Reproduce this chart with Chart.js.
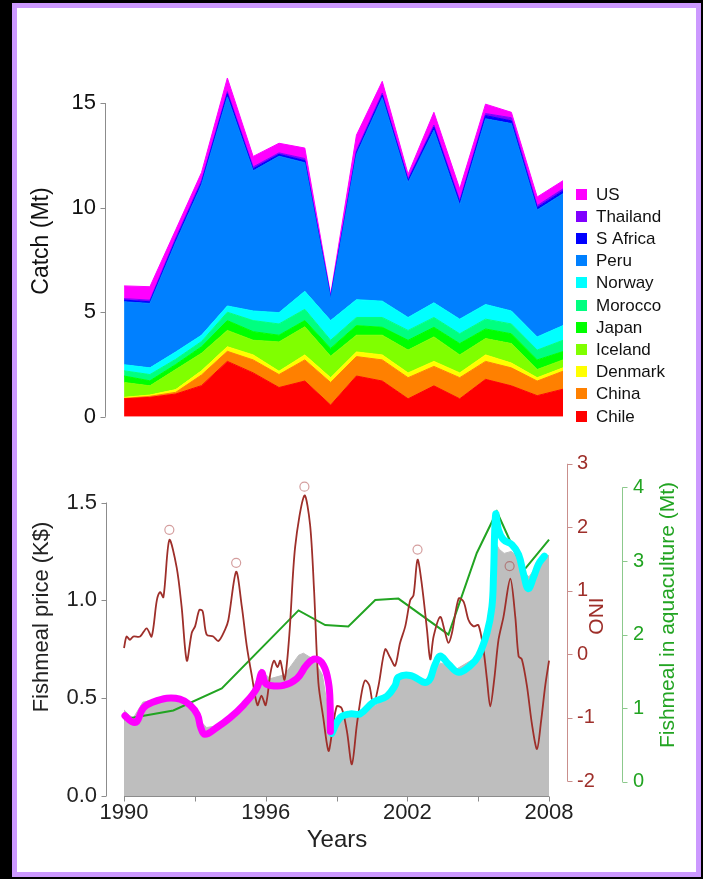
<!DOCTYPE html>
<html>
<head>
<meta charset="utf-8">
<script src="https://cdn.jsdelivr.net/npm/chart.js@4.4.1/dist/chart.umd.min.js"></script>
<style>
  html, body { margin: 0; padding: 0; background: #000; }
  body { width: 703px; height: 879px; position: relative; overflow: hidden; }
  #frame { position: absolute; left: 12px; top: 3px; width: 679px; height: 864px; border: 5px solid #cc99ff; background: #fff; }
  .box { position: absolute; left: 0; width: 679px; height: 432px; }
  #topBox { top: 0; }
  #botBox { top: 432px; }
</style>
</head>
<body>
<div id="frame">
  <div class="box" id="topBox"><canvas id="catchChart"></canvas></div>
  <div class="box" id="botBox"><canvas id="priceChart"></canvas></div>
</div>
<script>
// ---- catch by country (Mt), 1990-2007 ----
var years = [1990, 1991, 1992, 1993, 1994, 1995, 1996, 1997, 1998, 1999, 2000, 2001, 2002, 2003, 2004, 2005, 2006, 2007];
var countries = ["Chile", "China", "Denmark", "Iceland", "Japan", "Morocco", "Norway", "Peru", "S Africa", "Thailand", "US"];
var countryColors = ["#ff0000", "#ff8000", "#ffff00", "#80ff00", "#00ff00", "#00ff80", "#00ffff", "#0080ff", "#0000ff", "#8000ff", "#ff00ff"];
var chile    = [0.86, 0.93, 1.09, 1.49, 2.65, 2.10, 1.40, 1.71, 0.56, 1.95, 1.71, 0.86, 1.48, 0.86, 1.79, 1.48, 1.01, 1.32];
var china    = [0.02, 0.05, 0.08, 0.51, 0.48, 0.62, 0.62, 1.01, 1.08, 0.93, 1.01, 1.01, 0.93, 1.01, 0.86, 0.86, 0.70, 0.86];
var denmark  = [0.05, 0.06, 0.13, 0.20, 0.22, 0.24, 0.16, 0.24, 0.23, 0.22, 0.24, 0.23, 0.24, 0.23, 0.31, 0.23, 0.16, 0.16];
var iceland  = [0.71, 0.44, 0.96, 0.84, 0.78, 0.70, 1.40, 1.34, 1.03, 0.80, 0.94, 1.09, 1.17, 0.86, 0.78, 0.93, 0.39, 0.38];
var japan    = [0.31, 0.24, 0.24, 0.31, 0.47, 0.41, 0.32, 0.30, 0.37, 0.46, 0.38, 0.47, 0.46, 0.54, 0.46, 0.47, 0.46, 0.40];
var morocco  = [0.25, 0.30, 0.25, 0.25, 0.40, 0.53, 0.54, 0.54, 0.39, 0.39, 0.47, 0.47, 0.47, 0.47, 0.47, 0.47, 0.47, 0.54];
var norway   = [0.29, 0.32, 0.35, 0.30, 0.30, 0.46, 0.54, 0.86, 0.94, 0.85, 0.78, 0.62, 0.70, 0.70, 0.70, 0.62, 0.63, 0.70];
var peru     = [3.01, 3.08, 5.25, 7.20, 10.00, 6.70, 7.48, 6.15, 1.05, 6.94, 9.73, 6.45, 8.25, 5.45, 8.88, 8.96, 6.07, 6.31];
var sAfrica  = [0.08, 0.08, 0.10, 0.10, 0.15, 0.10, 0.09, 0.10, 0.05, 0.10, 0.12, 0.10, 0.15, 0.13, 0.15, 0.13, 0.11, 0.13];
var thailand = [0.07, 0.08, 0.10, 0.10, 0.10, 0.09, 0.07, 0.10, 0.06, 0.10, 0.10, 0.08, 0.10, 0.10, 0.10, 0.15, 0.10, 0.10];
var us       = [0.61, 0.64, 0.39, 0.38, 0.65, 0.50, 0.46, 0.50, 0.08, 0.73, 0.56, 0.22, 0.61, 0.55, 0.45, 0.26, 0.41, 0.39];
var catchTicks = [0, 5, 10, 15];

// ---- fishmeal price (K$), monthly-ish readings ----
var priceTime  = [1990.00, 1990.25, 1990.40, 1990.80, 1991.30, 1991.80, 1992.40, 1992.90, 1993.10, 1993.50, 1994.00, 1994.60, 1995.30, 1995.80, 1996.00, 1996.20, 1996.80, 1997.40, 1997.60, 1998.00, 1998.40, 1998.60, 1998.80, 1999.00, 1999.60, 2000.00, 2000.60, 2001.00, 2001.50, 2002.00, 2002.80, 2003.40, 2004.10, 2004.80, 2005.20, 2005.50, 2005.70, 2005.90, 2006.10, 2006.40, 2006.70, 2006.90, 2007.15, 2007.50, 2007.80, 2008.00];
var priceValue = [0.44, 0.41, 0.40, 0.48, 0.49, 0.50, 0.50, 0.45, 0.40, 0.35, 0.36, 0.42, 0.50, 0.65, 0.62, 0.60, 0.62, 0.72, 0.73, 0.70, 0.62, 0.47, 0.37, 0.38, 0.43, 0.42, 0.46, 0.49, 0.58, 0.63, 0.575, 0.68, 0.65, 0.70, 0.77, 0.93, 1.30, 1.26, 1.24, 1.25, 1.22, 1.15, 1.12, 1.18, 1.22, 1.23];

// smoothed price trend, two periods
var magTime  = [1990.04, 1990.33, 1990.54, 1990.82, 1991.24, 1991.81, 1992.37, 1992.80, 1993.11, 1993.25, 1993.43, 1993.93, 1994.49, 1995.06, 1995.62, 1995.83, 1995.97, 1996.19, 1996.75, 1997.32, 1997.74, 1998.09, 1998.44, 1998.66, 1998.73, 1998.74];
var magValue = [0.41, 0.38, 0.38, 0.45, 0.48, 0.50, 0.495, 0.465, 0.415, 0.35, 0.315, 0.35, 0.40, 0.465, 0.55, 0.63, 0.58, 0.565, 0.565, 0.60, 0.67, 0.70, 0.67, 0.58, 0.465, 0.33];
var cyanTime  = [1998.80, 1999.15, 1999.58, 2000.00, 2000.56, 2001.13, 2001.48, 2001.62, 2002.12, 2002.83, 2003.18, 2003.39, 2003.74, 2004.17, 2004.66, 2005.01, 2005.37, 2005.58, 2005.65, 2005.74, 2005.86, 2006.07, 2006.43, 2006.71, 2006.92, 2007.12, 2007.34, 2007.55, 2007.80];
var cyanValue = [0.32, 0.40, 0.42, 0.42, 0.48, 0.51, 0.565, 0.607, 0.616, 0.582, 0.674, 0.716, 0.674, 0.632, 0.666, 0.716, 0.833, 0.967, 1.134, 1.44, 1.36, 1.31, 1.284, 1.234, 1.134, 1.06, 1.117, 1.184, 1.226];

// ONI index
var oniTime  = [1990.00, 1990.11, 1990.25, 1990.39, 1990.68, 1990.96, 1991.17, 1991.39, 1991.53, 1991.67, 1991.92, 1992.23, 1992.44, 1992.66, 1992.87, 1993.01, 1993.19, 1993.33, 1993.50, 1993.78, 1994.00, 1994.28, 1994.42, 1994.75, 1994.99, 1995.20, 1995.41, 1995.65, 1995.82, 1996.00, 1996.20, 1996.35, 1996.50, 1996.62, 1996.80, 1997.00, 1997.25, 1997.64, 1997.88, 1998.05, 1998.23, 1998.44, 1998.66, 1998.80, 1999.01, 1999.22, 1999.44, 1999.65, 1999.86, 2000.07, 2000.21, 2000.39, 2000.56, 2000.78, 2001.06, 2001.27, 2001.48, 2001.69, 2001.91, 2002.12, 2002.26, 2002.43, 2002.61, 2002.83, 2002.97, 2003.11, 2003.39, 2003.60, 2003.74, 2003.89, 2004.17, 2004.38, 2004.59, 2004.80, 2005.01, 2005.22, 2005.37, 2005.51, 2005.68, 2005.86, 2006.07, 2006.36, 2006.57, 2006.71, 2006.85, 2007.06, 2007.28, 2007.49, 2007.66, 2007.84, 2008.00];
var oniValue = [0.10, 0.28, 0.23, 0.28, 0.28, 0.41, 0.28, 0.85, 0.98, 0.90, 1.80, 1.37, 0.75, -0.10, 0.34, 0.44, 0.70, 0.68, 0.31, 0.28, 0.21, 0.39, 0.54, 1.30, 0.75, 0.13, -0.33, -0.80, -0.65, -0.80, -0.30, -0.10, -0.20, -0.10, -0.40, 0.30, 1.70, 2.50, 2.04, 1.00, -0.44, -1.00, -1.52, -1.26, -0.82, -0.85, -1.21, -1.73, -1.11, -0.59, -0.41, -0.49, -0.80, -0.49, 0.08, -0.05, -0.18, 0.18, 0.44, 0.85, 0.93, 1.49, 1.11, 0.39, -0.08, 0.28, 0.59, 0.34, 0.18, 0.34, 0.88, 0.83, 0.54, 0.44, 0.46, 0.08, -0.39, -0.82, -0.39, 0.23, 0.59, 1.19, 0.59, -0.03, -0.08, -0.49, -1.11, -1.49, -1.06, -0.49, -0.10];
var ninoTime  = [1991.92, 1994.75, 1997.64, 2002.43, 2006.33];
var ninoValue = [1.96, 1.44, 2.64, 1.65, 1.39];

// fishmeal used in aquaculture (Mt)
var aquaTime  = [1990.00, 1992.09, 1994.14, 1997.39, 1998.52, 1999.50, 2000.64, 2001.62, 2003.74, 2004.94, 2005.79, 2006.92, 2008.00];
var aquaValue = [0.85, 0.97, 1.27, 2.33, 2.13, 2.11, 2.47, 2.49, 2.00, 3.11, 3.67, 2.87, 3.29];

var yearTicks  = [1990, 1993, 1996, 1999, 2002, 2005, 2008];
var yearLabels = [1990, 1996, 2002, 2008];
var priceTicks = [0, 0.5, 1.0, 1.5];
var oniTicks   = [-2, -1, 0, 1, 2, 3];
var aquaTicks  = [0, 1, 2, 3, 4];

var FONT = "'Liberation Sans', Arial, sans-serif";
Chart.defaults.font.family = FONT;
Chart.defaults.color = "#222";

function pairs(xs, ys) {
	return xs.map(function (x, i) {
		return { x: x, y: ys[i] };
	});
}

function fixedTicks(list) {
	return function (scale) {
		scale.ticks = list.map(function (v) {
			return { value: v };
		});
	};
}

// R-like axes: line only from first to last tick, ticks pointing outwards
var rAxes = {
	id: "rAxes",
	afterDraw: function (chart, args, opts) {
		var ctx = chart.ctx;
		ctx.save();
		ctx.lineWidth = 1;
		opts.axes.forEach(function (a) {
			var s = chart.scales[a.id];
			var vals = s.ticks.map(function (t) { return t.value; });
			var p0 = s.getPixelForValue(Math.min.apply(null, vals));
			var p1 = s.getPixelForValue(Math.max.apply(null, vals));
			ctx.strokeStyle = a.color;
			ctx.beginPath();
			if (a.side === "bottom") {
				var y = Math.round(s.top) + 0.5;
				ctx.moveTo(p0, y);
				ctx.lineTo(p1, y);
				vals.forEach(function (v) {
					var x = Math.round(s.getPixelForValue(v)) + 0.5;
					ctx.moveTo(x, y);
					ctx.lineTo(x, y + a.len);
				});
			} else {
				var x0 = a.side === "left" ? Math.round(s.right) - 0.5 : Math.round(s.left) + 0.5;
				var dir = a.side === "left" ? -1 : 1;
				ctx.moveTo(x0, p0);
				ctx.lineTo(x0, p1);
				vals.forEach(function (v) {
					var yy = Math.round(s.getPixelForValue(v)) + 0.5;
					ctx.moveTo(x0, yy);
					ctx.lineTo(x0 + dir * a.len, yy);
				});
			}
			ctx.stroke();
		});
		ctx.restore();
	}
};

var axisTitles = {
	id: "axisTitles",
	afterDraw: function (chart, args, opts) {
		var ctx = chart.ctx;
		opts.items.forEach(function (t) {
			ctx.save();
			ctx.translate(t.x, t.y);
			if (t.rot) ctx.rotate(-Math.PI / 2);
			ctx.font = t.size + "px " + FONT;
			ctx.fillStyle = t.color;
			ctx.textAlign = "center";
			ctx.textBaseline = "middle";
			ctx.fillText(t.text, 0, 0);
			ctx.restore();
		});
	}
};

var catchLegend = {
	id: "catchLegend",
	afterDraw: function (chart, args, opts) {
		var ctx = chart.ctx;
		var sets = chart.data.datasets;
		ctx.save();
		ctx.font = opts.size + "px " + FONT;
		ctx.textBaseline = "middle";
		ctx.textAlign = "left";
		for (var i = sets.length - 1, k = 0; i >= 0; i--, k++) {
			var y = opts.top + k * opts.step;
			ctx.fillStyle = sets[i].backgroundColor;
			ctx.fillRect(opts.left, Math.round(y - opts.box / 2), opts.box, opts.box);
			ctx.fillStyle = "#111";
			ctx.fillText(sets[i].label, opts.left + opts.box + 9, y + 1);
		}
		ctx.restore();
	}
};

// ---------- top: stacked catch ----------
var catchSeries = [chile, china, denmark, iceland, japan, morocco, norway, peru, sAfrica, thailand, us];
var catchDatasets = catchSeries.map(function (arr, i) {
	return {
		label: countries[i],
		data: pairs(years, arr),
		backgroundColor: countryColors[i],
		borderColor: countryColors[i],
		borderWidth: 1,
		pointRadius: 0,
		tension: 0,
		fill: i === 0 ? "origin" : "-1"
	};
});

new Chart(document.getElementById("catchChart"), {
	type: "line",
	data: { datasets: catchDatasets },
	options: {
		responsive: true,
		maintainAspectRatio: false,
		animation: false,
		events: [],
		layout: { padding: { left: 0, right: 133, top: 52, bottom: 15 } },
		scales: {
			x: { type: "linear", min: 1989.3, max: 2007, display: false },
			y: {
				stacked: true,
				min: 0,
				max: 17.06,
				grid: { display: false, drawTicks: false },
				border: { display: false },
				afterBuildTicks: fixedTicks(catchTicks),
				afterFit: function (s) { s.width = 89; },
				ticks: { padding: 10, color: "#111", font: { size: 22 } }
			}
		},
		plugins: {
			legend: { display: false },
			tooltip: { enabled: false },
			rAxes: { axes: [{ id: "y", side: "left", color: "#8c8c8c", len: 5 }] },
			axisTitles: { items: [{ text: "Catch (Mt)", x: 25, y: 233, rot: true, size: 23, color: "#111" }] },
			catchLegend: { left: 559, top: 186, step: 22.2, box: 11, size: 17 }
		}
	},
	plugins: [rAxes, axisTitles, catchLegend]
});

// ---------- bottom: price, ONI, aquaculture ----------
var ONI_COLOR = "#9e2f2a";
var AQUA_COLOR = "#22a422";

new Chart(document.getElementById("priceChart"), {
	type: "line",
	data: {
		datasets: [
			{
				label: "Price trend 1990-1998",
				data: pairs(magTime, magValue),
				yAxisID: "price",
				borderColor: "#ff00ff",
				borderWidth: 7,
				borderCapStyle: "round",
				borderJoinStyle: "round",
				pointRadius: 0,
				tension: 0.4,
				fill: false,
				order: 0
			},
			{
				label: "Price trend 1998-2008",
				data: pairs(cyanTime, cyanValue),
				yAxisID: "price",
				borderColor: "#00ffff",
				borderWidth: 7,
				borderCapStyle: "round",
				borderJoinStyle: "round",
				pointRadius: 0,
				tension: 0.4,
				fill: false,
				order: 0
			},
			{
				label: "El Nino",
				data: pairs(ninoTime, ninoValue),
				yAxisID: "oni",
				showLine: false,
				pointRadius: 4.5,
				pointBorderWidth: 1.2,
				pointBorderColor: "rgba(160,40,40,0.45)",
				pointBackgroundColor: "rgba(0,0,0,0)",
				order: 1
			},
			{
				label: "ONI",
				data: pairs(oniTime, oniValue),
				yAxisID: "oni",
				borderColor: ONI_COLOR,
				borderWidth: 1.8,
				pointRadius: 0,
				tension: 0.3,
				fill: false,
				order: 2
			},
			{
				label: "Fishmeal in aquaculture",
				data: pairs(aquaTime, aquaValue),
				yAxisID: "aqua",
				borderColor: AQUA_COLOR,
				borderWidth: 2,
				pointRadius: 0,
				tension: 0,
				fill: false,
				order: 3
			},
			{
				label: "Fishmeal price",
				data: pairs(priceTime, priceValue),
				yAxisID: "price",
				borderColor: "#bebebe",
				backgroundColor: "#bebebe",
				borderWidth: 1,
				pointRadius: 0,
				tension: 0,
				fill: "origin",
				order: 4
			}
		]
	},
	options: {
		responsive: true,
		maintainAspectRatio: false,
		animation: false,
		events: [],
		layout: { padding: { left: 0, right: 0, top: 17, bottom: 0 } },
		scales: {
			x: {
				type: "linear",
				position: "bottom",
				min: 1989.28,
				max: 2008.76,
				grid: { display: false, drawTicks: false },
				border: { display: false },
				afterBuildTicks: fixedTicks(yearTicks),
				afterFit: function (s) { s.height = 76; },
				ticks: {
					autoSkip: false,
					maxRotation: 0,
					minRotation: 0,
					padding: 4,
					color: "#222",
					font: { size: 22 },
					callback: function (v) {
						return yearLabels.indexOf(v) >= 0 ? String(v) : "";
					}
				}
			},
			price: {
				position: "left",
				min: 0,
				max: 1.701,
				grid: { display: false, drawTicks: false },
				border: { display: false },
				afterBuildTicks: fixedTicks(priceTicks),
				afterFit: function (s) { s.width = 90; },
				ticks: {
					padding: 10,
					color: "#222",
					font: { size: 22 },
					callback: function (v) { return v.toFixed(1); }
				}
			},
			oni: {
				position: "right",
				weight: 0,
				min: -2.23,
				max: 3.009,
				grid: { display: false, drawTicks: false },
				border: { display: false },
				afterBuildTicks: fixedTicks(oniTicks),
				afterFit: function (s) { s.width = 55; },
				ticks: { padding: 10, color: ONI_COLOR, font: { size: 20 } }
			},
			aqua: {
				position: "right",
				weight: 1,
				min: -0.191,
				max: 4.329,
				grid: { display: false, drawTicks: false },
				border: { display: false },
				afterBuildTicks: fixedTicks(aquaTicks),
				afterFit: function (s) { s.width = 74; },
				ticks: { padding: 11, color: AQUA_COLOR, font: { size: 20 } }
			}
		},
		plugins: {
			legend: { display: false },
			tooltip: { enabled: false },
			rAxes: {
				axes: [
					{ id: "x", side: "bottom", color: "#8c8c8c", len: 5 },
					{ id: "price", side: "left", color: "#8c8c8c", len: 5 },
					{ id: "oni", side: "right", color: "#c98f8c", len: 5 },
					{ id: "aqua", side: "right", color: "#8cc98c", len: 5 }
				]
			},
			axisTitles: {
				items: [
					{ text: "Fishmeal price (K$)", x: 25, y: 177, rot: true, size: 22, color: "#222" },
					{ text: "ONI", x: 580, y: 176, rot: true, size: 21, color: ONI_COLOR },
					{ text: "Fishmeal in aquaculture (Mt)", x: 651, y: 175, rot: true, size: 21, color: AQUA_COLOR },
					{ text: "Years", x: 320, y: 400, rot: false, size: 24, color: "#222" }
				]
			}
		}
	},
	plugins: [rAxes, axisTitles]
});
</script>
</body>
</html>
